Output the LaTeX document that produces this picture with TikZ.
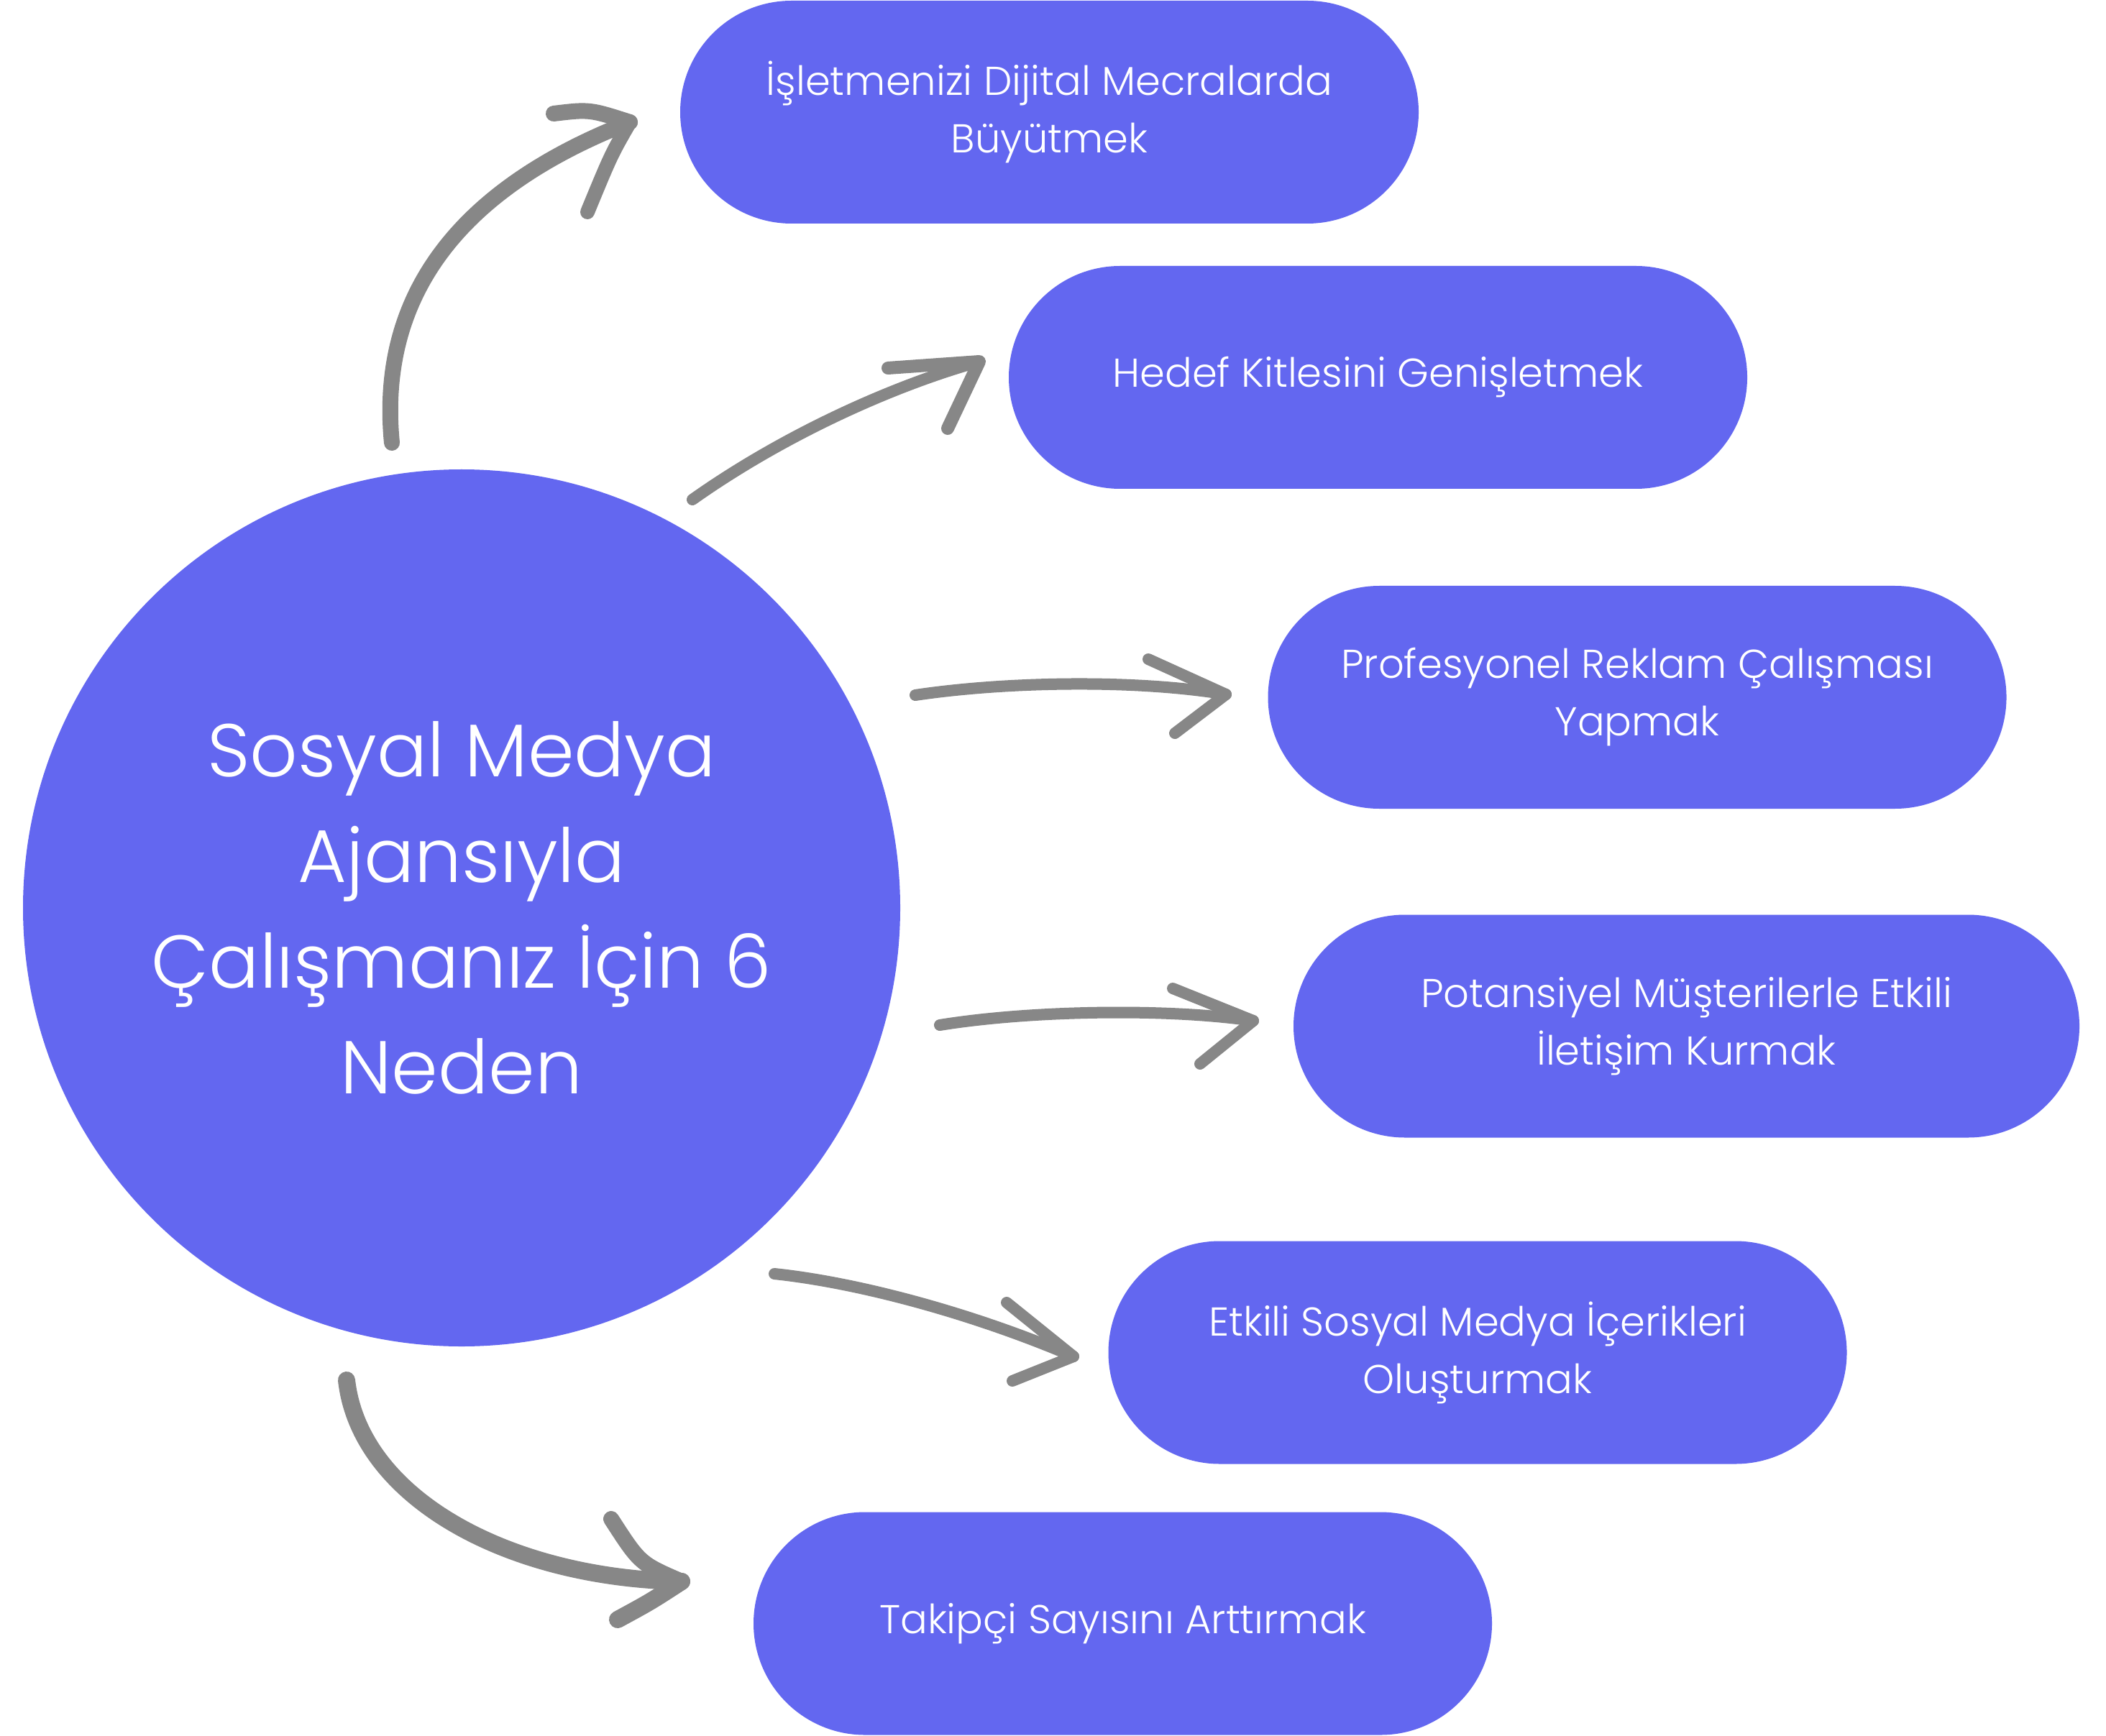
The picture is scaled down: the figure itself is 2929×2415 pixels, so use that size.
\documentclass[tikz,border=0pt]{standalone}
\usepackage{fontspec}
\IfFontExistsTF{Poppins Light}{\setmainfont{Poppins Light}}{\setmainfont{Poppins}}
\definecolor{pillblue}{RGB}{99,103,240}
\definecolor{arrowgray}{RGB}{135,135,135}
\begin{document}
\begin{tikzpicture}[x=0.25pt,y=-0.25pt,
 pill/.style={fill=pillblue, rounded corners=38.75pt, minimum width=256.75pt, minimum height=77.5pt, inner sep=0pt, text=white, align=center, font=\fontsize{14pt}{20pt}\selectfont},
 hub/.style={circle, fill=pillblue, minimum size=305pt, inner sep=0pt, text=white, align=center, font=\fontsize{26pt}{36.75pt}\selectfont},
 brush/.style={draw=arrowgray, line width=4pt, line cap=round, line join=round},
 thickbrush/.style={brush, line width=5.5pt}]
\useasboundingbox (0,0) rectangle (2929,2415);
\fill[white] (0,0) rectangle (2929,2415);

\node[hub] (hub) at (642,1263) {Sosyal Medya\\Ajansıyla\\Çalışmanız İçin 6\\Neden};
\node[pill] (p1) at (1459.5,156) {İşletmenizi Dijital Mecralarda\\Büyütmek};
\node[pill] (p2) at (1916.5,525) {Hedef Kitlesini Genişletmek};
\node[pill] (p3) at (2277,970) {Profesyonel Reklam Çalışması\\Yapmak};
\node[pill, minimum width=273.25pt] (p4) at (2345.5,1427.5) {Potansiyel Müşterilerle Etkili\\İletişim Kurmak};
\node[pill] (p5) at (2055,1881.5) {Etkili Sosyal Medya İçerikleri\\Oluşturmak};
\node[pill] (p6) at (1561.5,2258.5) {Takipçi Sayısını Arttırmak};

% arrow 1
\coordinate (a1s) at (545,616);
\coordinate (a1t) at (876,170);
\coordinate (a1b) at (770,158);
\coordinate (a1c) at (817,295);
\draw[thickbrush] (a1s) .. controls (525,410) and (640,262) .. (a1t);
\draw[thickbrush] (a1b) .. controls (820,152) .. (a1t);
\draw[brush, line width=5pt] (a1t) .. controls (850,215) .. (a1c);

% arrow 2
\coordinate (a2s) at (963,695);
\coordinate (a2t) at (1362,503);
\coordinate (a2b) at (1235,512);
\coordinate (a2c) at (1318,596);
\draw[brush] (a2s) .. controls (1080,612) and (1230,540) .. (a2t);
\draw[brush, line width=4.5pt] (a2b) -- (a2t) -- (a2c);

% arrow 3
\coordinate (a3s) at (1273,967);
\coordinate (a3t) at (1705,966);
\coordinate (a3b) at (1597,917);
\coordinate (a3c) at (1634,1020);
\draw[brush] (a3s) .. controls (1400,948) and (1580,945) .. (a3t);
\draw[brush] (a3b) -- (a3t) -- (a3c);

% arrow 4
\coordinate (a4s) at (1307,1426);
\coordinate (a4t) at (1743,1420);
\coordinate (a4b) at (1631,1375);
\coordinate (a4c) at (1669,1480);
\draw[brush] (a4s) .. controls (1430,1406) and (1620,1402) .. (a4t);
\draw[brush] (a4b) -- (a4t) -- (a4c);

% arrow 5
\coordinate (a5s) at (1077,1772);
\coordinate (a5t) at (1493,1887);
\coordinate (a5b) at (1400,1812);
\coordinate (a5c) at (1408,1921);
\draw[brush] (a5s) .. controls (1200,1785) and (1360,1830) .. (a5t);
\draw[brush] (a5b) -- (a5t) -- (a5c);

% arrow 6
\coordinate (a6s) at (482,1920);
\coordinate (a6t) at (948,2200);
\coordinate (a6b) at (850,2113);
\coordinate (a6c) at (859,2253);
\draw[thickbrush, line width=6pt] (a6s) .. controls (500,2080) and (700,2195) .. (a6t);
\draw[thickbrush] (a6b) .. controls (890,2175) .. (a6t);
\draw[thickbrush, line width=6pt] (a6t) .. controls (905,2228) .. (a6c);
\end{tikzpicture}
\end{document}
